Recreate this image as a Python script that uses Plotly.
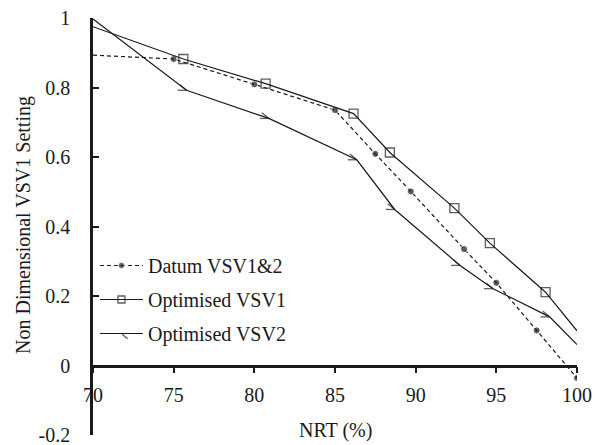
import plotly.graph_objects as go

# Data
datum_x = [70, 75.0, 80.0, 85.0, 87.5, 89.7, 93.0, 95.0, 97.5, 100.0]
datum_y = [0.893, 0.882, 0.809, 0.735, 0.609, 0.501, 0.335, 0.238, 0.101, -0.036]

vsv1_x = [70, 75.6, 80.7, 86.15, 88.4, 92.4, 94.6, 98.05, 100.0]
vsv1_y = [0.975, 0.882, 0.811, 0.725, 0.613, 0.453, 0.352, 0.211, 0.100]

vsv2_x = [70, 75.8, 80.9, 86.35, 88.7, 92.75, 94.8, 98.3, 100.0]
vsv2_y = [0.997, 0.792, 0.711, 0.592, 0.449, 0.288, 0.221, 0.140, 0.060]

x_ticks = [70, 75, 80, 85, 90, 95, 100]
y_ticks = [-0.2, 0, 0.2, 0.4, 0.6, 0.8, 1]
y_tick_text = ["-0.2", "0", "0.2", "0.4", "0.6", "0.8", "1"]

FONT = "Liberation Serif"
INK = "#1a1a1a"

def sizes(n, s, hide_first=True, hide_last=False):
    out = [s] * n
    if hide_first:
        out[0] = 0
    if hide_last:
        out[-1] = 0
    return out

BARB = 9.0  # barb stroke length in px
T, B = 18, 10
PH = 445 - T - B

fig = go.Figure()
fig.add_trace(go.Scatter(
    x=datum_x, y=datum_y, name="Datum VSV1&2", mode="lines+markers",
    line=dict(color=INK, width=1.2, dash="4px,3px"),
    marker=dict(symbol="circle", size=sizes(len(datum_x), 7), color=INK),
    legendgroup="a"))
fig.add_trace(go.Scatter(
    x=vsv1_x, y=vsv1_y, name="Optimised VSV1", mode="lines+markers",
    line=dict(color=INK, width=1.2),
    marker=dict(symbol="square-open", size=sizes(len(vsv1_x), 9, True, True),
                color=INK, line=dict(width=1.3, color=INK)),
    legendgroup="b"))
# horizontal barb stroke (no legend)
fig.add_trace(go.Scatter(
    x=vsv2_x, y=vsv2_y, mode="markers", showlegend=False, hoverinfo="skip",
    marker=dict(symbol="line-ns-open", size=sizes(len(vsv2_x), BARB / 1.4, True, True),
                angle=90, standoff=BARB / 2, color=INK, line=dict(width=1.3, color=INK)),
    legendgroup="c"))
# line + diagonal barb stroke
fig.add_trace(go.Scatter(
    x=vsv2_x, y=vsv2_y, name="Optimised VSV2", mode="lines+markers",
    line=dict(color=INK, width=1.2),
    marker=dict(symbol="line-ns-open", size=sizes(len(vsv2_x), BARB / 1.4, True, True),
                angle=130, standoff=BARB / 2, color=INK, line=dict(width=1.3, color=INK)),
    legendgroup="c"))

fig.update_layout(
    width=596, height=445,
    margin=dict(l=93, r=19, t=T, b=B),
    paper_bgcolor="white", plot_bgcolor="white",
    font=dict(family=FONT, size=20, color=INK),
    showlegend=True,
    legend=dict(x=0.004, y=(445 - B - 246) / PH, xanchor="left", yanchor="top",
                bgcolor="rgba(0,0,0,0)", itemwidth=43, tracegroupgap=5,
                font=dict(family=FONT, size=20, color=INK)),
    xaxis=dict(range=[70, 100], tickvals=x_ticks, ticks="outside", ticklen=6,
               tickwidth=2, tickcolor=INK, showline=True, linewidth=2.5,
               linecolor=INK, showgrid=False, zeroline=False, automargin=False,
               anchor="free", position=0.2 / 1.2, ticklabelstandoff=5,
               tickfont=dict(family=FONT, size=20, color=INK)),
    yaxis=dict(range=[-0.2, 1], tickvals=y_ticks, ticktext=y_tick_text,
               ticks="inside", ticklen=6, tickwidth=2, tickcolor=INK,
               showline=True, linewidth=2.5, linecolor=INK, showgrid=False,
               zeroline=False, ticklabelstandoff=16, ticklabeloverflow="allow",
               automargin=False,
               tickfont=dict(family=FONT, size=20, color=INK)),
    annotations=[
        dict(text="NRT (%)", xref="paper", yref="paper", x=0.5, y=(445 - 430 - B) / PH,
             xanchor="center", yanchor="middle", showarrow=False,
             font=dict(family=FONT, size=20, color=INK)),
        dict(text="Non Dimensional VSV1 Setting", xref="paper", yref="paper",
             x=(23 - 93) / 484, y=(445 - 225 - B) / PH, textangle=-90,
             xanchor="center", yanchor="middle", showarrow=False,
             font=dict(family=FONT, size=20, color=INK)),
    ],
)

fig.write_html("out.html")
